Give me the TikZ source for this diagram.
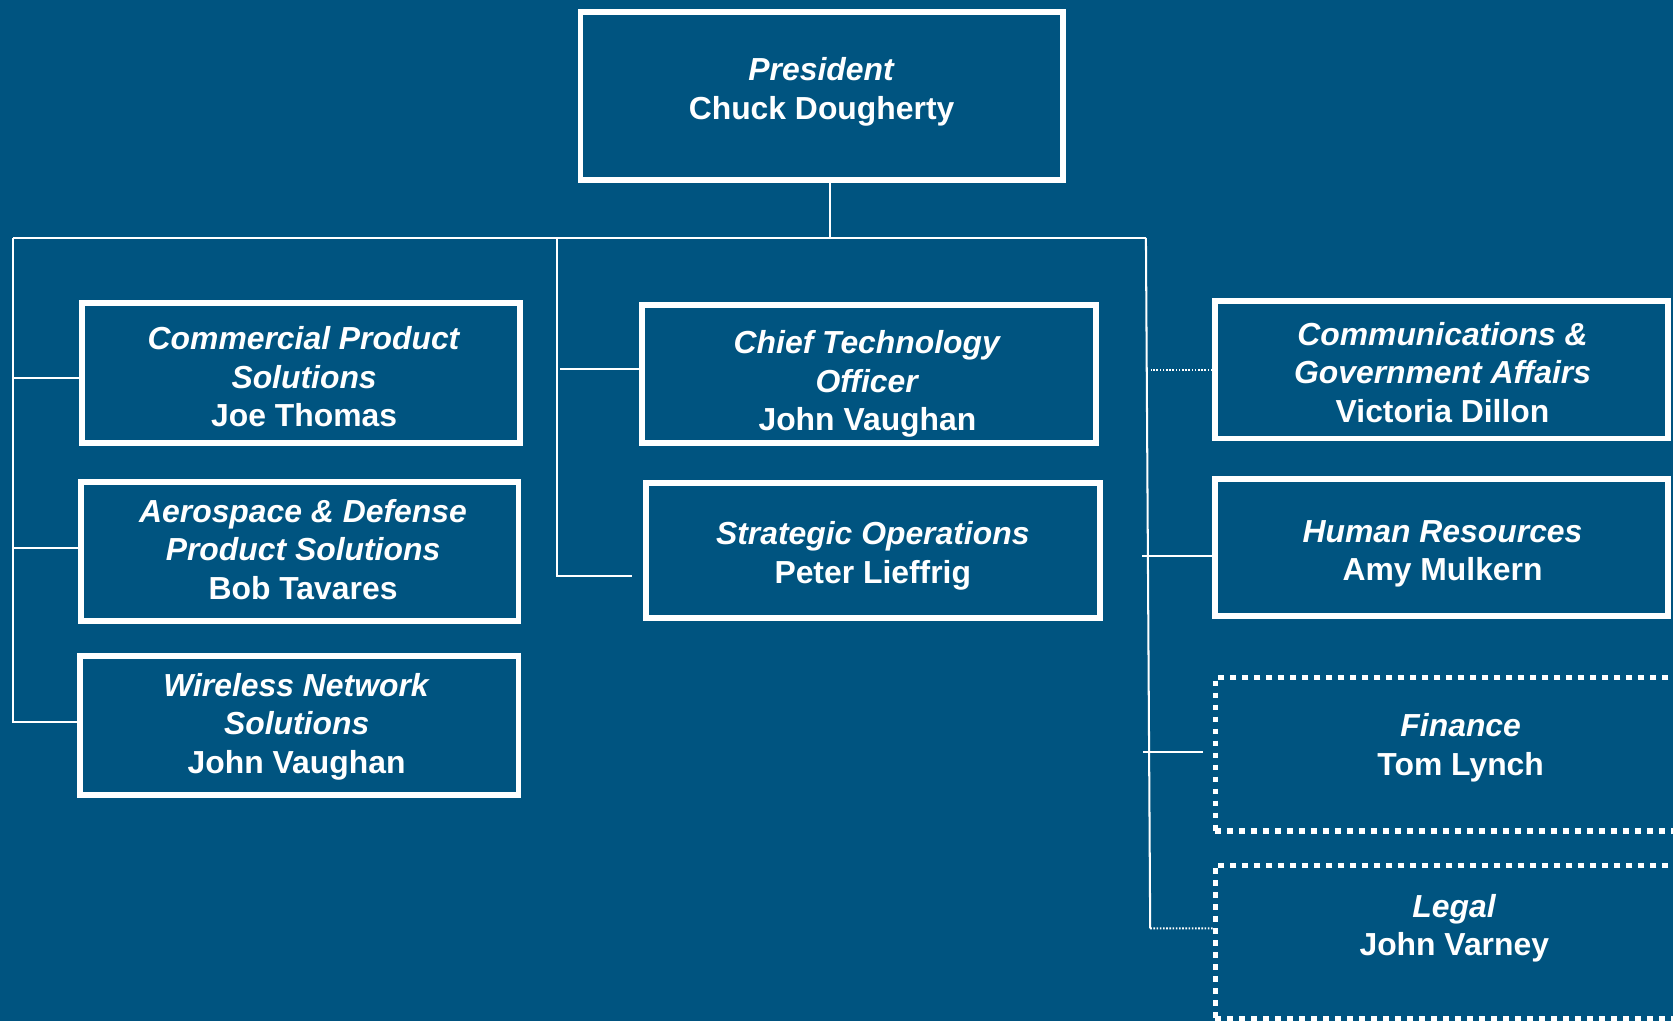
\documentclass[tikz,border=0pt]{standalone}
\usepackage{fontspec}
\setmainfont{Liberation Sans}
\definecolor{navy}{RGB}{0,84,128}

\begin{document}
\begin{tikzpicture}[x = 0.02cm, y = -0.02cm,
	box/.style = {draw=white, line width=0.11cm, inner sep=0pt},
	dotbox/.style = {draw=white, line width=0.1cm, dash pattern=on 0.112cm off 0.113cm, inner sep=0pt},
	txt/.style = {text=white, font=\fontsize{17}{20.5}\selectfont\bfseries, align=center, inner sep=0pt},
	wire/.style = {white, line width=0.038cm},
	dotwire/.style = {wire, dash pattern=on 0.03cm off 0.03cm}]
	\fill[navy] (0,0) rectangle (1568,957);
	\clip (0,0) rectangle (1568,957);
	
	% boxes
	\node[box, minimum width=9.04cm, minimum height=3.16cm] (pres) at (770,90) {};
	
	\node[box, minimum width=8.2cm, minimum height=2.62cm] (cps) at (282,349.5) {};
	\node[box, minimum width=8.2cm, minimum height=2.6cm] (ads) at (281,517) {};
	\node[box, minimum width=8.22cm, minimum height=2.6cm] (wns) at (280.5,680) {};
	
	\node[box, minimum width=8.5cm, minimum height=2.58cm] (cto) at (814.5,350.5) {};
	\node[box, minimum width=8.52cm, minimum height=2.52cm] (sops) at (818,516) {};
	
	\node[box, minimum width=8.48cm, minimum height=2.58cm] (comms) at (1351,346.5) {};
	\node[box, minimum width=8.48cm, minimum height=2.56cm] (hr) at (1351,513) {};
	\node[dotbox, minimum width=9.22cm, minimum height=2.88cm] (fin) at (1369.5,707) {};
	\node[dotbox, minimum width=9.22cm, minimum height=2.88cm] (legal) at (1369.5,883) {};
	
	% texts
	\node[txt] (pres-t) at (770,86) {\textit{President}\\Chuck Dougherty};
	\node[txt] (cps-t) at (285,353) {\textit{Commercial Product}\\\textit{Solutions}\\Joe Thomas};
	\node[txt] (ads-t) at (284,515) {\textit{Aerospace \& Defense}\\\textit{Product Solutions}\\Bob Tavares};
	\node[txt] (wns-t) at (278,681) {\textit{Wireless Network}\\\textit{Solutions}\\John Vaughan};
	\node[txt] (cto-t) at (813,360) {\textit{Chief Technology}\\\textit{Officer}\\John Vaughan};
	\node[txt] (sops-t) at (818,521) {\textit{Strategic Operations}\\Peter Lieffrig};
	\node[txt] (comms-t) at (1352,349) {\textit{Communications \&}\\\textit{Government Affairs}\\Victoria Dillon};
	\node[txt] (hr-t) at (1352,519) {\textit{Human Resources}\\Amy Mulkern};
	\node[txt] (fin-t) at (1369,701) {\textit{Finance}\\Tom Lynch};
	\node[txt] (legal-t) at (1363,870) {\textit{Legal}\\John Varney};
	
	% bus
	\coordinate (busL) at (12,223);
	\coordinate (busM) at (522,223);
	\coordinate (busR) at (1074,223);
	\coordinate (spineR) at (1078,870);
	\draw[wire] (busL) -- (busR);
	\draw[wire] ([xshift=0.16cm]pres.south) -- ([xshift=0.16cm]pres.south |- busL);
	
	% left column
	\draw[wire] (busL) |- ([yshift=0.06cm]wns.west);
	\draw[wire] ([yshift=-0.09cm]cps.west) -| (busL);
	\draw[wire] ([yshift=0.06cm]ads.west) -| (busL);
	
	% middle column
	\draw[wire] (busM) |- ([xshift=-0.2cm, yshift=-0.48cm]sops.west);
	\draw[wire] ([yshift=0.09cm]cto.west) -- ++(-74,0);
	
	% right column
	\draw[wire] (busR) -- (spineR);
	\draw[dotwire] (comms.west) -- ++(-58,0);
	\draw[wire] ([yshift=-0.16cm]hr.west) -- ++(-66,0);
	\draw[wire] ([xshift=-0.18cm, yshift=0.04cm]fin.west) -- ++(-56,0);
	\draw[dotwire] (spineR) -- ([yshift=0.26cm]legal.west);
	
\end{tikzpicture}
\end{document}
